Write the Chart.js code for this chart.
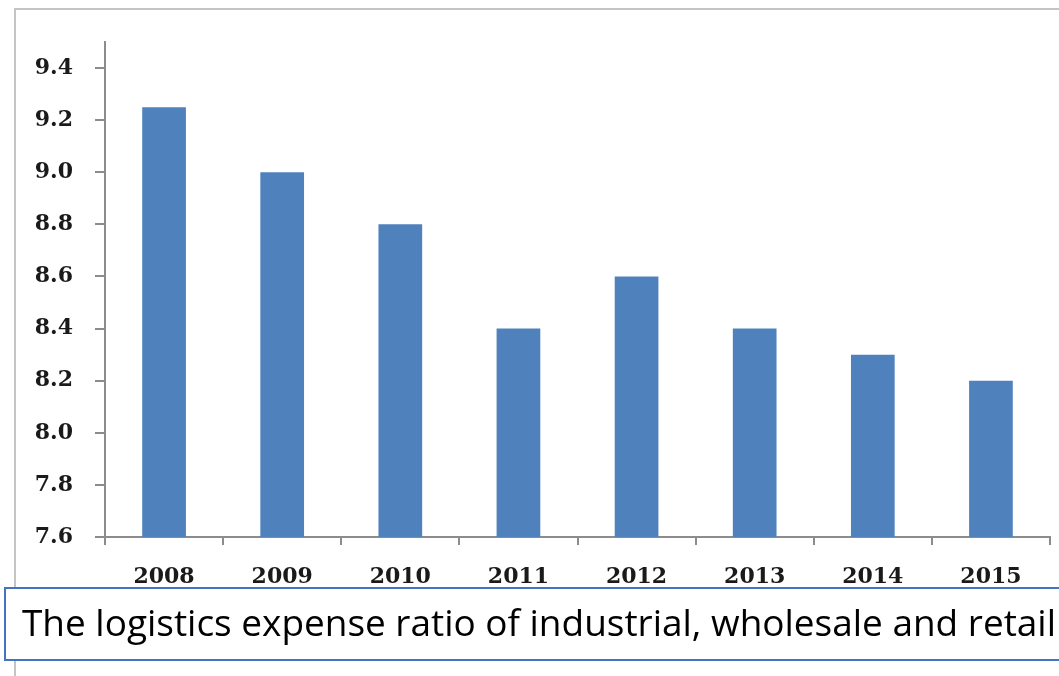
<!DOCTYPE html>
<html>
<head>
<meta charset="utf-8">
<script src="https://cdn.jsdelivr.net/npm/chart.js@4"></script>
<style>
  html, body { margin: 0; padding: 0; background: #fff; }
  #wrap { width: 1059px; height: 676px; }
</style>
</head>
<body>
<div id="wrap"><canvas id="ratioChart"></canvas></div>
<script>
// data
const years = ['2008', '2009', '2010', '2011', '2012', '2013', '2014', '2015'];
const expenseRatio = [9.25, 9.0, 8.8, 8.4, 8.6, 8.4, 8.3, 8.2];
const yMin = 7.6;
const yMax = 9.5;
const yStep = 0.2;
const caption = 'The logistics expense ratio of industrial, wholesale and retail';

const axisGray = '#8c8c8c';

// outer frame + caption box
const framePlugin = {
    id: 'frame',
    beforeDraw(chart) {
        const ctx = chart.ctx;
        ctx.save();
        ctx.strokeStyle = '#c4c4c4';
        ctx.lineWidth = 2;
        ctx.beginPath();
        ctx.moveTo(15, 676);
        ctx.lineTo(15, 9);
        ctx.lineTo(1060, 9);
        ctx.stroke();
        ctx.restore();
    },
    afterDraw(chart) {
        const ctx = chart.ctx;
        ctx.save();
        ctx.fillStyle = '#fff';
        ctx.fillRect(5, 588, 1070, 72);
        ctx.strokeStyle = '#4472c4';
        ctx.lineWidth = 2;
        ctx.strokeRect(5, 588, 1070, 72);
        ctx.fillStyle = '#000';
        ctx.font = '37px "Open Sans"';
        ctx.textBaseline = 'middle';
        ctx.fillText(caption, 22, 625, 1034);
        ctx.restore();
    }
};

new Chart(document.getElementById('ratioChart'), {
    type: 'bar',
    data: {
        labels: years,
        datasets: [{
            data: expenseRatio,
            backgroundColor: '#4f81bd',
            barPercentage: 0.74,
            categoryPercentage: 0.5
        }]
    },
    options: {
        responsive: true,
        maintainAspectRatio: false,
        animation: false,
        layout: { padding: { left: 0, top: 42, right: 9, bottom: 79 } },
        plugins: {
            legend: { display: false },
            tooltip: { enabled: false }
        },
        scales: {
            x: {
                afterFit: s => { s.height = 60; },
                border: { color: axisGray, width: 2 },
                grid: {
                    offset: true,
                    drawOnChartArea: false,
                    color: axisGray,
                    lineWidth: 2,
                    tickLength: 8
                },
                ticks: {
                    padding: 19,
                    color: '#1a1a1a',
                    font: { family: '"DejaVu Serif"', size: 22, weight: 'bold' }
                }
            },
            y: {
                min: yMin,
                max: yMax,
                afterFit: s => { s.width = 105; },
                afterBuildTicks: s => {
                    s.ticks = s.ticks.filter(t => t.value <= 9.4 + 1e-9);
                },
                border: { color: axisGray, width: 2 },
                grid: {
                    drawOnChartArea: false,
                    color: axisGray,
                    lineWidth: 2,
                    tickLength: 10
                },
                ticks: {
                    stepSize: yStep,
                    padding: 22,
                    color: '#1a1a1a',
                    font: { family: '"DejaVu Serif"', size: 22, weight: 'bold' },
                    callback: v => v.toFixed(1)
                }
            }
        }
    },
    plugins: [framePlugin]
});
</script>
</body>
</html>
